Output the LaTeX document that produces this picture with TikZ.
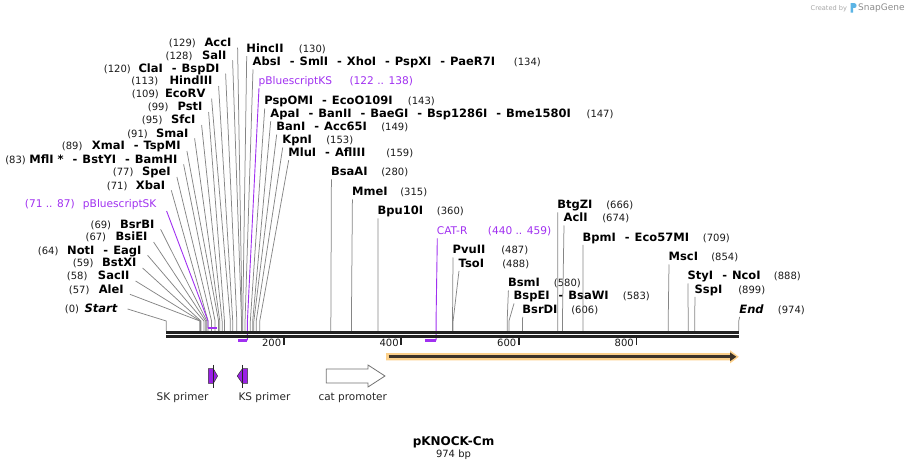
\documentclass[tikz,border=0pt]{standalone}
\usepackage{fontspec}
\setmainfont{DejaVu Sans}
\definecolor{purp}{HTML}{A030F0}
\definecolor{fangray}{HTML}{858585}
\definecolor{bb}{HTML}{222222}
\definecolor{oband}{HTML}{FCD08A}
\definecolor{odark}{HTML}{3E3429}
\definecolor{prfill}{HTML}{9A1FE6}
\definecolor{snapblue}{HTML}{5BB4E5}
\newcommand\pos[1]{166.3+#1*0.5877}
\newcommand\sepd{\hspace{9pt}-\hspace{5pt}}
\newcommand\leftlab[6]{%
  \node[num,anchor=base west] (#1n) at (#2-0.6,#4) {#5};
  \node[enz,anchor=base east] (#1) at (#3+0.6,#4) {#6};}
\newcommand\leftfan[2]{%
  \draw[fan] ([shift={(6,1)}]#1.base east) -- ({\pos{#2}},321) -- ({\pos{#2}},331);}
\newcommand\rightlab[6]{%
  \node[enz,anchor=base west] (#1) at (#2-0.8,#3) {#4};
  \node[num,anchor=base west] (#1n) at (#5-0.6,#3) {#6};}
\newcommand\rightfan[2]{%
  \draw[fan] ([shift={(0.5,3.5)}]#1.base west) -- ({\pos{#2}},321) -- ({\pos{#2}},331);}
\begin{document}
\begin{tikzpicture}[x=1pt,y=-1pt,
  num/.style={font=\fontsize{10}{12}\selectfont,inner sep=0pt,text=black!90},
  enz/.style={font=\fontsize{11.5}{13}\selectfont\bfseries,inner sep=0pt},
  ptxt/.style={font=\fontsize{10.6}{12}\selectfont,inner sep=0pt,text=purp},
  fan/.style={draw=fangray,line width=0.75pt},
  pline/.style={draw=purp,line width=0.9pt},
  pbar/.style={draw=purp,line width=2.4pt},
  tickmark/.style={draw=bb,line width=1.8pt},
  primer/.style={fill=prfill,draw=black!80,line width=0.5pt},
  flange/.style={draw=black!85,line width=0.8pt},
  promo/.style={fill=white,draw=black!55,line width=0.8pt},
  flab/.style={font=\fontsize{10.5}{12}\selectfont,inner sep=0pt,text=black!85}]
\useasboundingbox (0,0) rectangle (908,470);

% ---------- left labels ----------
\leftlab{accI}{169.3}{231}{46.7}{(129)}{AccI}
\leftlab{salI}{166}{226}{59.3}{(128)}{SalI}
\leftlab{claI}{104.3}{219}{72.7}{(120)}{ClaI\sepd BspDI}
\leftlab{hindIII}{131.7}{212}{85}{(113)}{HindIII}
\leftlab{ecoRV}{132.3}{205}{97.7}{(109)}{EcoRV}
\leftlab{pstI}{148.3}{202}{111}{(99)}{PstI}
\leftlab{sfcI}{142.3}{195}{124}{(95)}{SfcI}
\leftlab{smaI}{127.7}{188}{137.3}{(91)}{SmaI}
\leftlab{xmaI}{62.3}{180.3}{150}{(89)}{XmaI\sepd TspMI}
\leftlab{mflI}{5.7}{177}{163.3}{(83)}{MflI *\sepd BstYI\sepd BamHI}
\leftlab{speI}{113.3}{170.3}{176}{(77)}{SpeI}
\leftlab{xbaI}{107.3}{164.7}{189.3}{(71)}{XbaI}
\leftlab{bsrBI}{91}{154}{228.3}{(69)}{BsrBI}
\leftlab{bsiEI}{86}{147}{241}{(67)}{BsiEI}
\leftlab{notI}{38.3}{141}{254.3}{(64)}{NotI\sepd EagI}
\leftlab{bstXI}{73.3}{136}{267}{(59)}{BstXI}
\leftlab{sacII}{67.3}{129}{280}{(58)}{SacII}
\leftlab{aleI}{69.3}{123.3}{293.3}{(57)}{AleI}
\leftlab{startl}{65.3}{117}{313}{(0)}{\itshape Start}

\leftfan{accI}{129}
\leftfan{salI}{128}
\leftfan{claI}{120}
\leftfan{hindIII}{113}
\leftfan{ecoRV}{109}
\leftfan{pstI}{99}
\leftfan{sfcI}{95}
\leftfan{smaI}{91}
\leftfan{xmaI}{89}
\leftfan{mflI}{83}
\leftfan{speI}{77}
\leftfan{xbaI}{71}
\leftfan{bsrBI}{69}
\leftfan{bsiEI}{67}
\leftfan{notI}{64}
\leftfan{bstXI}{59}
\leftfan{sacII}{58}
\leftfan{aleI}{57}
\draw[fan] ([shift={(10,-4)}]startl.base east) -- ({\pos{0}},321) -- ({\pos{0}},331);

% ---------- right labels ----------
\rightlab{hincII}{247}{52.7}{HincII}{299.3}{(130)}
\rightlab{absI}{253.3}{66}{AbsI\sepd SmlI\sepd XhoI\sepd PspXI\sepd PaeR7I}{514.3}{(134)}
\rightlab{pspOMI}{265}{105}{PspOMI\sepd EcoO109I}{408.3}{(143)}
\rightlab{apaI}{271}{117.7}{ApaI\sepd BanII\sepd BaeGI\sepd Bsp1286I\sepd Bme1580I}{587}{(147)}
\rightlab{banI}{277}{131}{BanI\sepd Acc65I}{381.7}{(149)}
\rightlab{kpnI}{283}{144}{KpnI}{326.7}{(153)}
\rightlab{mluI}{289}{156.7}{MluI\sepd AflIII}{386.7}{(159)}
\rightlab{bsaAI}{331.7}{176}{BsaAI}{381.7}{(280)}
\rightlab{mmeI}{352.7}{196}{MmeI}{400.7}{(315)}
\rightlab{bpuI}{378.3}{215}{Bpu10I}{437.3}{(360)}
\rightlab{pvuII}{453.3}{254}{PvuII}{501.7}{(487)}
\rightlab{tsoI}{459.3}{267.3}{TsoI}{502.7}{(488)}
\rightlab{bsmI}{508.7}{287}{BsmI}{554.3}{(580)}
\rightlab{bspEI}{514.3}{300}{BspEI\sepd BsaWI}{623.3}{(583)}
\rightlab{bsrDI}{523}{313.3}{BsrDI}{571.7}{(606)}
\rightlab{btgZI}{558}{209}{BtgZI}{606.7}{(666)}
\rightlab{aclI}{564.3}{222}{AclI}{602.7}{(674)}
\rightlab{bpmI}{583.3}{241.3}{BpmI\sepd Eco57MI}{703.3}{(709)}
\rightlab{mscI}{669.3}{261}{MscI}{711.7}{(854)}
\rightlab{styI}{688.3}{280}{StyI\sepd NcoI}{774.3}{(888)}
\rightlab{sspI}{695.3}{293.3}{SspI}{738.7}{(899)}
\rightlab{endl}{740}{313.3}{\itshape End}{778.3}{(974)}

\rightfan{hincII}{130}
\rightfan{absI}{134}
\rightfan{pspOMI}{143}
\rightfan{apaI}{147}
\rightfan{banI}{149}
\rightfan{kpnI}{153}
\rightfan{mluI}{159}
\rightfan{bsaAI}{280}
\rightfan{mmeI}{315}
\rightfan{bpuI}{360}
\rightfan{pvuII}{487}
\rightfan{tsoI}{488}
\rightfan{bsmI}{580}
\rightfan{bspEI}{583}
\rightfan{bsrDI}{606}
\rightfan{btgZI}{666}
\rightfan{aclI}{674}
\rightfan{bpmI}{709}
\rightfan{mscI}{854}
\rightfan{styI}{888}
\rightfan{sspI}{899}
\rightfan{endl}{974}

% ---------- primer binding sites (purple) ----------
\node[ptxt,anchor=base west] (pbskn) at (25.3-0.6,208) {(71 .. 87)};
\node[ptxt,anchor=base east] (pbsk) at (156.6,208) {pBluescriptSK};
\draw[pline] ([shift={(10,3)}]pbsk.base east) -- ({\pos{71}},321) -- ({\pos{71}},328);
\draw[pbar] ({\pos{71}},328) -- ({\pos{87}},328);

\node[ptxt,anchor=base west] (pbks) at (259-0.6,85) {pBluescriptKS};
\node[ptxt,anchor=base west] (pbksn) at (350-0.6,85) {(122 .. 138)};
\draw[pline] ([shift={(0.6,3)}]pbks.base west) -- ({\pos{138}},321) -- ({\pos{138}},340.5);
\draw[pbar] ({\pos{122}},340.5) -- ({\pos{138}},340.5);

\node[ptxt,anchor=base west] (catr) at (437.3-0.6,235) {CAT-R};
\node[ptxt,anchor=base west] (catrn) at (488.3-0.6,235) {(440 .. 459)};
\draw[pline] ([shift={(0.6,3.5)}]catr.base west) -- ({\pos{459}},321) -- ({\pos{459}},340.5);
\draw[pbar] ({\pos{440}},340.5) -- ({\pos{459}},340.5);

% ---------- backbone ----------
\draw[draw=bb,line width=2.6pt] ({\pos{0}},332.3) -- ({\pos{974}},332.3);
\draw[draw=bb,line width=2.6pt] ({\pos{0}},336.4) -- ({\pos{974}},336.4);

% ticks
\foreach \t in {200,400,600,800}{
  \draw[tickmark] ({\pos{\t}},338) -- ({\pos{\t}},345.5);
  \node[num,anchor=base east] (tick\t) at ({\pos{\t}-2.5},346.5) {\t};
}

% ---------- orange feature ----------
\fill[oband] (386,353.2) -- (730,353.2) -- (730,350.2) -- (738.8,356.8) -- (730,363.4) -- (730,360.4) -- (386,360.4) -- cycle;
\draw[draw=odark,line width=2.6pt] (388.5,356.8) -- (731,356.8);
\fill[odark] (730,352.4) -- (736.3,356.8) -- (730,361.2) -- cycle;

% ---------- bottom features ----------
\filldraw[primer] (208.3,368.7) -- (213.3,368.7) -- (217.6,376) -- (213.3,383.4) -- (208.3,383.4) -- cycle;
\draw[flange] (213.3,365) -- (213.3,388);
\filldraw[primer] (247.7,368.7) -- (242.4,368.7) -- (237.2,376) -- (242.4,383.4) -- (247.7,383.4) -- cycle;
\draw[flange] (242.4,365) -- (242.4,388);
\filldraw[promo] (326.3,369) -- (368,369) -- (368,365) -- (385,376) -- (368,387) -- (368,383) -- (326.3,383) -- cycle;
\node[flab,anchor=base] (skl) at (182.5,400) {SK primer};
\node[flab,anchor=base] (ksl) at (264.5,400) {KS primer};
\node[flab,anchor=base] (catl) at (352.7,400) {cat promoter};

% ---------- title ----------
\node[font=\fontsize{12}{14}\selectfont\bfseries,inner sep=0pt,anchor=base] (title) at (453.5,445) {pKNOCK-Cm};
\node[num,anchor=base] (size) at (453.5,457.5) {974 bp};

% ---------- credit ----------
\node[font=\fontsize{6.6}{8}\selectfont,text=black!35,inner sep=0pt,anchor=base west] (credit) at (810.5,10.5) {Created by};
\fill[snapblue] (850.5,3.2) -- (854.5,3.2) .. controls (857.2,3.2) and (857.2,8) .. (854.5,8) -- (853,8) -- (853,12.6) -- (850.5,12.6) -- cycle;
\node[font=\fontsize{9}{11}\selectfont,text=black!45,inner sep=0pt,anchor=base west] (snap) at (858,10.8) {SnapGene};
\end{tikzpicture}
\end{document}
